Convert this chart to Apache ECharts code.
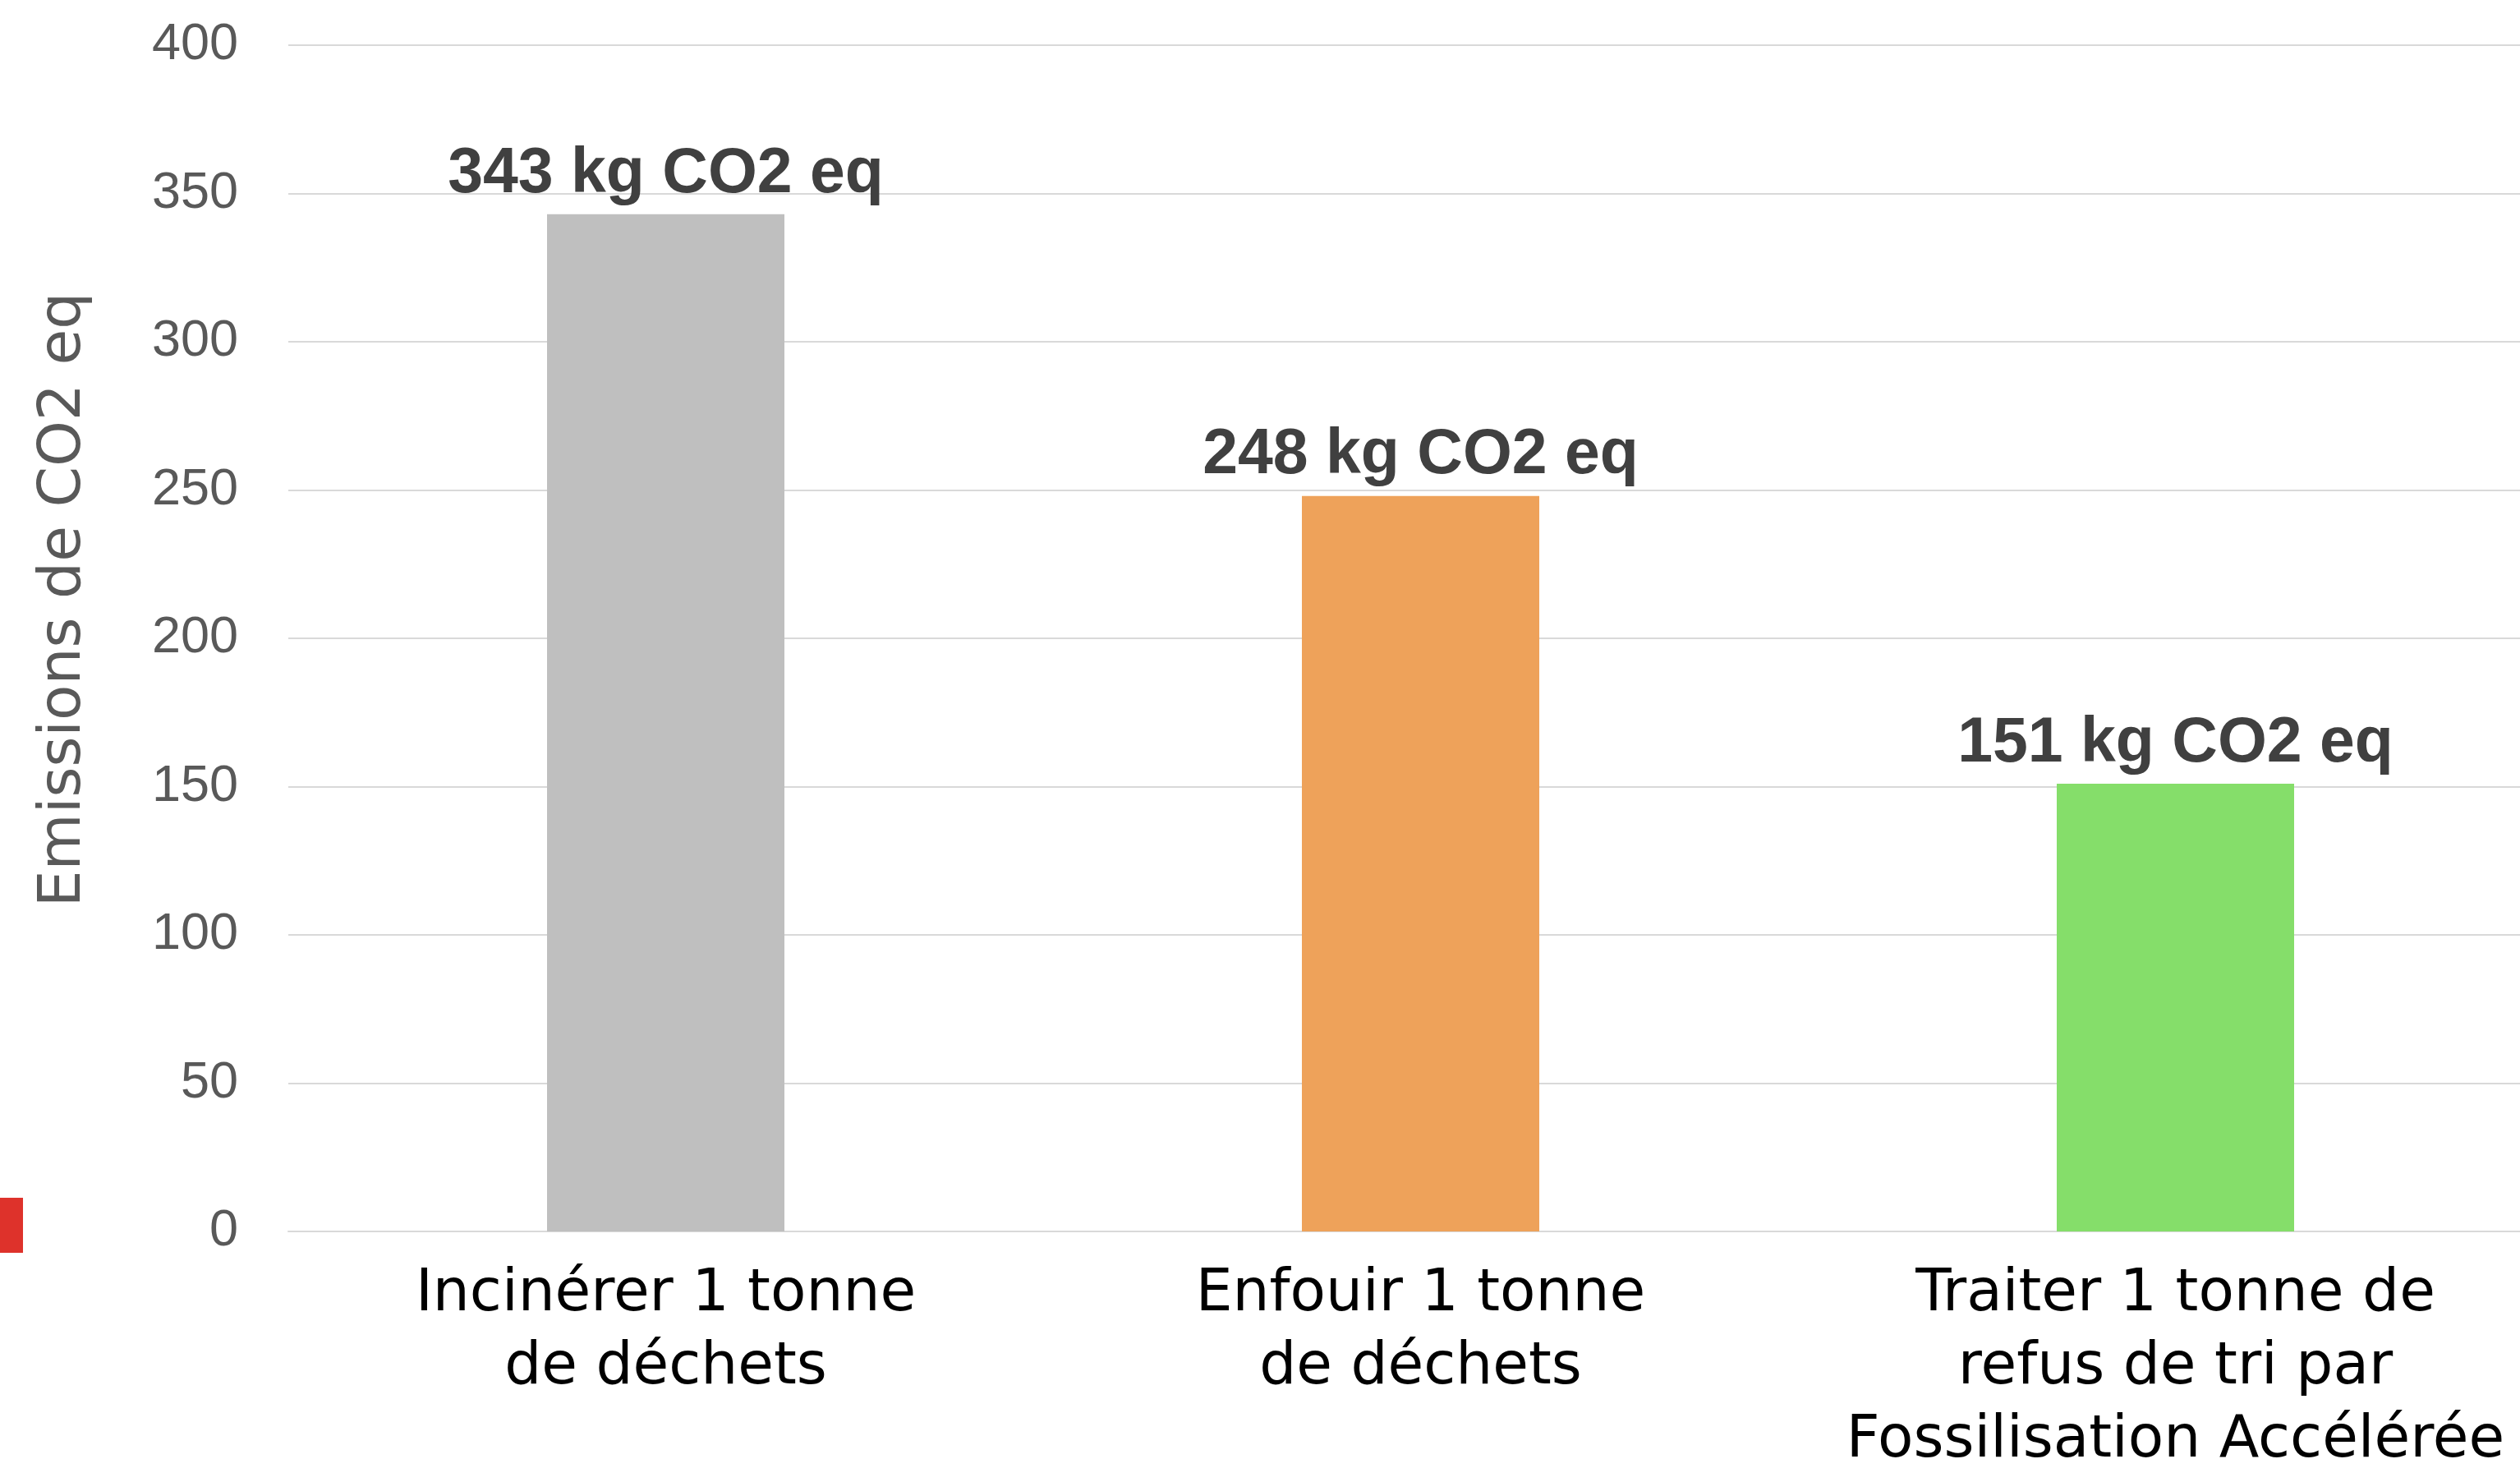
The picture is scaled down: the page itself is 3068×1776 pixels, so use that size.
<!DOCTYPE html>
<html>
<head>
<meta charset="utf-8">
<script src="https://cdn.jsdelivr.net/npm/echarts@6/dist/echarts.min.js"></script>
<style>
html,body{margin:0;padding:0;background:#fff;}
#chart{width:3068px;height:1776px;}
</style>
</head>
<body>
<div id="chart"></div>
<script>
const categories = [
  "Incinérer 1 tonne\nde déchets",
  "Enfouir 1 tonne\nde déchets",
  "Traiter 1 tonne de\nrefus de tri par\nFossilisation Accélérée"
];
const values = [343, 248, 151];
const barColors = ["#BFBFBF", "#EEA25A", "#85DE6A"];
const yTicks = { min: 0, max: 400, interval: 50 };
const yAxisName = "Emissions de CO2 eq";
const labelUnit = " kg CO2 eq";

const chart = echarts.init(document.getElementById('chart'));
chart.setOption({
  backgroundColor: '#ffffff',
  animation: false,
  grid: { left: 351, top: 55, width: 2757, height: 1444, containLabel: false, outerBoundsMode: 'none' },
  xAxis: {
    type: 'category',
    data: categories,
    axisLine: { show: true, lineStyle: { color: '#D9D9D9', width: 2 } },
    axisTick: { show: false },
    axisLabel: {
      margin: 33,
      color: '#000000',
      fontFamily: 'DejaVu Sans',
      fontSize: 71,
      lineHeight: 89,
      interval: 0
    }
  },
  yAxis: {
    type: 'value',
    min: yTicks.min,
    max: yTicks.max,
    interval: yTicks.interval,
    name: yAxisName,
    nameLocation: 'middle',
    nameGap: 237,
    nameTextStyle: {
      color: '#595959',
      fontFamily: 'DejaVu Sans',
      fontSize: 71,
      padding: [0, 0, 0, 94]
    },
    axisLine: { show: false },
    axisTick: { show: false },
    splitLine: { show: true, lineStyle: { color: '#D9D9D9', width: 2 } },
    axisLabel: {
      margin: 61,
      color: '#595959',
      fontFamily: 'Liberation Sans',
      fontSize: 63
    }
  },
  series: [{
    type: 'bar',
    data: values.map((v, i) => ({ value: v, itemStyle: { color: barColors[i] } })),
    barWidth: 289,
    label: {
      show: true,
      position: 'top',
      distance: 10,
      formatter: p => p.value + labelUnit,
      color: '#404040',
      fontFamily: 'Liberation Sans',
      fontWeight: 'bold',
      fontSize: 77
    }
  }],
  graphic: [{
    type: 'rect',
    left: 0,
    top: 1458,
    shape: { width: 28, height: 67 },
    style: { fill: '#DE322B' },
    silent: true
  }]
});
</script>
</body>
</html>
